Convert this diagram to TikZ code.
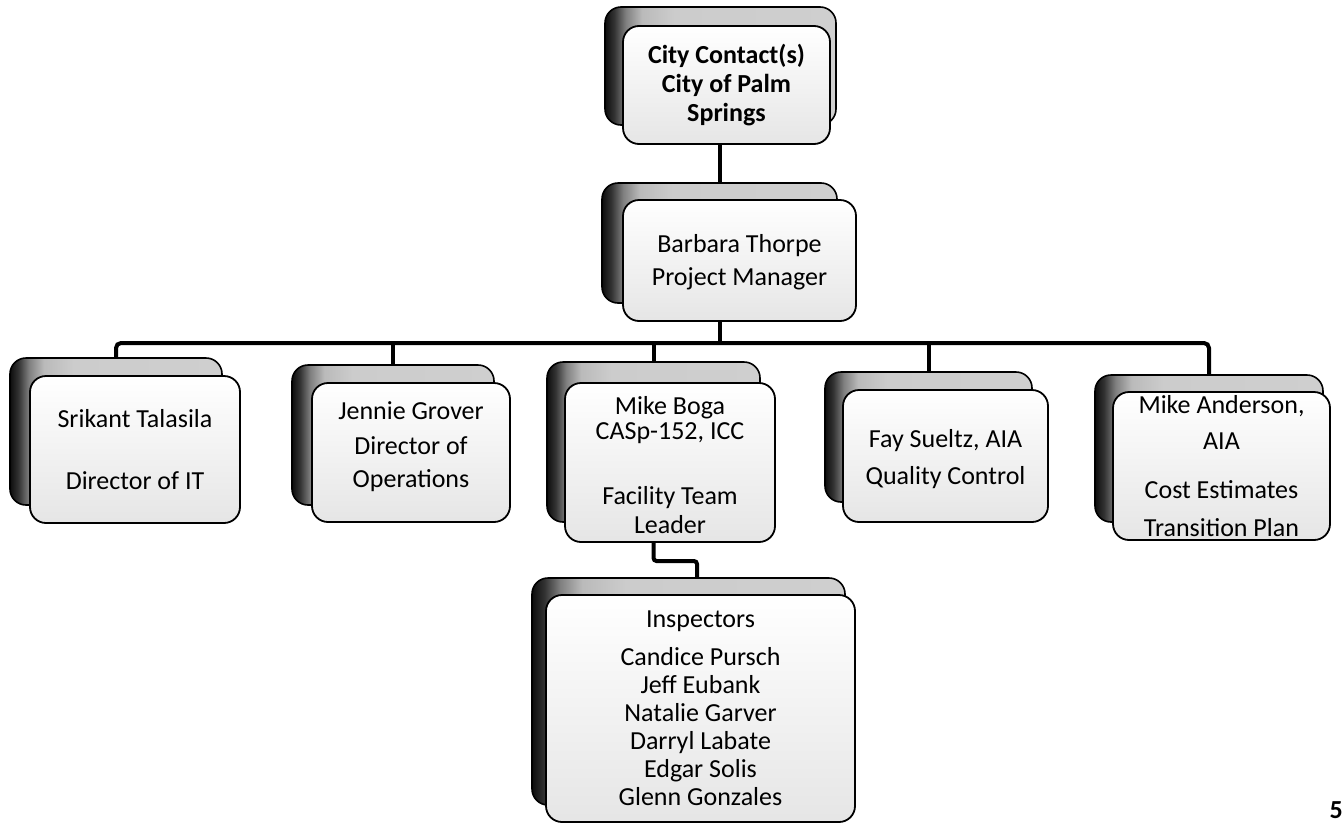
\documentclass[tikz,border=0pt]{standalone}
\usepackage{fontspec}
\setmainfont{Carlito}
\usetikzlibrary{calc}
% TikZ maps the 25bp--75bp part of a shading onto the path
\pgfdeclarehorizontalshading{backsh}{100bp}{color(0bp)=(black!95); color(25bp)=(black!95); color(27bp)=(black!80); color(29.5bp)=(black!50); color(33bp)=(black!27); color(40bp)=(black!20); color(100bp)=(black!18)}
\tikzset{
  rect/.style args={#1/#2/#3/#4}{minimum width={(#3)-(#1)}, minimum height={(#4)-(#2)}, at={({((#1)+(#3))/2},{((#2)+(#4))/2})}},
  backbox/.style={draw=black, line width=1.6pt, rounded corners=16pt, shade, shading=backsh, inner sep=0pt},
  frontbox/.style={draw=black, line width=1.8pt, rounded corners=16pt, top color=white, bottom color=black!10, inner sep=0pt},
  txt/.style={align=center, inner sep=0pt},
  conn/.style={line width=4pt, black, rounded corners=3pt},
}
\begin{document}
\begin{tikzpicture}[x=1pt,y=-1pt]
\useasboundingbox (0,0) rectangle (1344,825);
\coordinate (busy) at (0,343);
\coordinate (midy) at (0,561);
\coordinate (insx) at (697,0);

% City contact
\node[backbox, rect=605/7/836/125] (topb) {};
\node[frontbox, rect=623/26/830/144] (top) {};
\node[txt, at=(top.center), font=\fontsize{26}{29}\selectfont\bfseries] (topt) {City Contact(s)\\City of Palm\\Springs};
% Barbara Thorpe
\node[backbox, rect=602/183/837/303] (barbb) {};
\node[frontbox, rect=623/200/856/321] (barb) {};
\node[txt, at=(barb.center), yshift=-2pt, font=\fontsize{26}{33}\selectfont] (barbt) {Barbara Thorpe\\Project Manager};
% Srikant
\node[backbox, rect=10/358/222/505] (srikb) {};
\node[frontbox, rect=30/376/240/523] (srik) {};
\node[txt, at=(srik.center), font=\fontsize{26}{30}\selectfont] (srikt) {Srikant Talasila\\[32pt]Director of IT};
% Jennie
\node[backbox, rect=292/365/494/505] (jennb) {};
\node[frontbox, rect=312/383/510/522] (jenn) {};
\node[txt, at=(jenn.center), yshift=6pt, font=\fontsize{26}{33}\selectfont] (jennt) {Jennie Grover\\[2pt]Director of\\Operations};
% Mike Boga
\node[backbox, rect=547/362/760/522] (bogab) {};
\node[frontbox, rect=565/383/775/542] (boga) {};
\node[txt, at=(boga.center), yshift=-3pt, font=\fontsize{26}{25}\selectfont] (bogat) {Mike Boga\\CASp-152, ICC\\[40pt]Facility Team\\[4pt]Leader};
% Fay
\node[backbox, rect=825/372/1032/502] (fayb) {};
\node[frontbox, rect=843/390/1048/522] (fay) {};
\node[txt, at=(fay.center), yshift=-3pt, font=\fontsize{26}{37}\selectfont] (fayt) {Fay Sueltz, AIA\\Quality Control};
% Mike Anderson
\node[backbox, rect=1095/375/1323/522] (andb) {};
\node[frontbox, rect=1113/392/1330/540] (and) {};
\node[txt, at=(and.center), font=\fontsize{26}{36}\selectfont] (andt) {Mike Anderson,\\AIA\\[13pt]Cost Estimates\\[2pt]Transition Plan};
% Inspectors
\node[backbox, rect=532/578/845/805] (inspb) {};
\node[frontbox, rect=546/595/855/822] (insp) {};
\node[txt, at=(insp.center), font=\fontsize{26}{28}\selectfont] (inspt) {Inspectors\\[10pt]Candice Pursch\\Jeff Eubank\\Natalie Garver\\Darryl Labate\\Edgar Solis\\Glenn Gonzales};

% connectors
\draw[conn] (barbb.north |- top.south) -- (barbb.north);
\draw[conn] (barbb.north |- barb.south) -- (barbb.north |- busy);
\draw[conn, rounded corners=5pt] (srikb.north) -- (srikb.north |- busy) -- (andb.north |- busy) -- (andb.north);
\draw[conn] (jennb.north |- busy) -- (jennb.north);
\draw[conn] (bogab.north |- busy) -- (bogab.north);
\draw[conn] (fayb.north |- busy) -- (fayb.north);
\draw[conn] (bogab.north |- boga.south) -- (bogab.north |- midy) -| (inspb.north -| insx);

% page number at the corner
\node[anchor=north east, inner sep=0pt, font=\fontsize{26}{26}\selectfont\bfseries] (pg) at (1343,801) {5};
\end{tikzpicture}
\end{document}
